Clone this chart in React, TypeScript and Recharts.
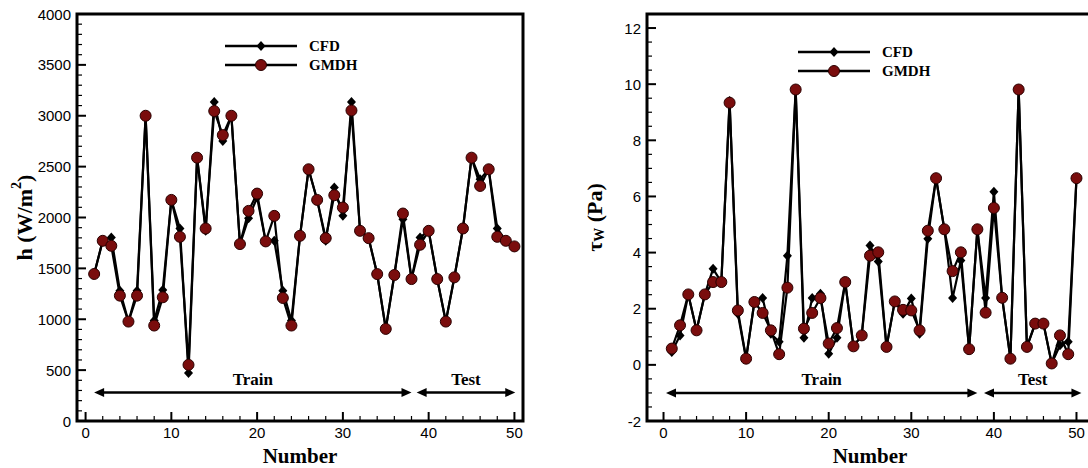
import React from 'react';
import { LineChart, Line, XAxis, YAxis, ReferenceArea, ReferenceLine, Legend, Label } from 'recharts';

// sample number (x axis)
const sampleNo = Array.from({ length: 50 }, (_, i) => i + 1);

// heat transfer coefficient h (W/m2)
const hCFD = [
  1445, 1771, 1804, 1281, 977, 1281, 3000, 987, 1288, 2173,
  1892, 471, 2588, 1869, 3134, 2752, 3000, 1739, 1993, 2196,
  1765, 1771, 1281, 987, 1820, 2474, 2173, 1771, 2294, 2016,
  3134, 1869, 1797, 1444, 905, 1435, 1984, 1395, 1804, 1869,
  1395, 977, 1412, 1892, 2588, 2376, 2474, 1892, 1771, 1716,
];
const hGMDH = [
  1445, 1771, 1722, 1232, 977, 1232, 3000, 938, 1216, 2173,
  1810, 552, 2588, 1892, 3046, 2810, 3000, 1739, 2065, 2235,
  1765, 2016, 1209, 938, 1820, 2474, 2173, 1797, 2219, 2098,
  3052, 1869, 1797, 1444, 905, 1435, 2039, 1395, 1732, 1869,
  1395, 977, 1412, 1892, 2588, 2310, 2474, 1810, 1771, 1716,
];

// wall shear stress tau_w (Pa)
const tauCFD = [
  0.46, 1.05, 2.51, 1.23, 2.51, 3.42, 2.95, 9.40, 1.82, 0.22,
  2.24, 2.38, 1.11, 0.82, 3.89, 9.81, 0.97, 2.38, 2.53, 0.40,
  0.97, 2.95, 0.66, 1.05, 4.25, 3.68, 0.64, 2.26, 1.82, 2.36,
  1.11, 4.49, 6.65, 4.83, 2.38, 3.72, 0.56, 4.83, 2.38, 6.17,
  2.39, 0.22, 9.81, 0.64, 1.47, 1.47, 0.05, 0.70, 0.82, 6.65,
];
const tauGMDH = [
  0.58, 1.41, 2.51, 1.23, 2.51, 2.95, 2.95, 9.34, 1.94, 0.22,
  2.24, 1.85, 1.23, 0.38, 2.75, 9.81, 1.29, 1.85, 2.38, 0.76,
  1.31, 2.95, 0.66, 1.05, 3.89, 4.01, 0.64, 2.26, 1.96, 1.94,
  1.23, 4.78, 6.65, 4.83, 3.34, 4.01, 0.56, 4.83, 1.86, 5.59,
  2.39, 0.22, 9.81, 0.64, 1.47, 1.47, 0.05, 1.05, 0.38, 6.65,
];

const xTicks = [0, 2, 4, 6, 8, 10, 12, 14, 16, 18, 20, 22, 24, 26, 28, 30, 32, 34, 36, 38, 40, 42, 44, 46, 48, 50];
const hMajor = [0, 500, 1000, 1500, 2000, 2500, 3000, 3500, 4000];
const tauMajor = [-2, 0, 2, 4, 6, 8, 10, 12];

const withMinor = (major: number[], parts: number) => {
  const out: number[] = [];
  for (let i = 0; i < major.length - 1; i++) {
    const step = (major[i + 1] - major[i]) / parts;
    for (let k = 0; k < parts; k++) out.push(+(major[i] + k * step).toFixed(3));
  }
  out.push(major[major.length - 1]);
  return out;
};
const hTicks = withMinor(hMajor, 5);
const tauTicks = withMinor(tauMajor, 4);

const hData = sampleNo.map((n, i) => ({ n, cfd: hCFD[i], gmdh: hGMDH[i] }));
const tauData = sampleNo.map((n, i) => ({ n, cfd: tauCFD[i], gmdh: tauGMDH[i] }));

const SANS = '"Liberation Sans", Arial, sans-serif';
const SERIF = '"Liberation Serif", "Times New Roman", serif';
const TM = 6;
const DARK_RED = '#7a0d0d';

// inward tick marks, labels only on the major ones
const yTick = (majors: number[]) => (p: any) => {
  const v = p.payload.value;
  const major = majors.some((m) => Math.abs(m - v) < 1e-6);
  const ax = p.x + TM;
  return (
    <g>
      <line x1={ax} x2={ax + (major ? 9 : 5)} y1={p.y} y2={p.y} stroke="#000" strokeWidth={major ? 2 : 1.2} />
      {major && (
        <text x={p.x} y={p.y} textAnchor="end" dominantBaseline="central" fontFamily={SANS} fontSize={15} fill="#000">
          {v}
        </text>
      )}
    </g>
  );
};

const xTick = (p: any) => {
  const v = p.payload.value;
  const major = v % 10 === 0;
  const ay = p.y - TM;
  return (
    <g>
      <line x1={p.x} x2={p.x} y1={ay} y2={ay - (major ? 9 : 5)} stroke="#000" strokeWidth={major ? 2 : 1.2} />
      {major && (
        <text x={p.x} y={p.y} textAnchor="middle" dominantBaseline="hanging" fontFamily={SANS} fontSize={15} fill="#000">
          {v}
        </text>
      )}
    </g>
  );
};

const diamond = (p: any) => {
  const { cx, cy } = p;
  if (cx == null || cy == null) return <g key={p.index} />;
  return <polygon key={p.index} points={`${cx},${cy - 5} ${cx + 4.5},${cy} ${cx},${cy + 5} ${cx - 4.5},${cy}`} fill="#000" />;
};

const arrow = (p: any) => {
  const { x1, y1, x2, y2 } = p;
  return (
    <g>
      <line x1={x1 + 6} y1={y1} x2={x2 - 6} y2={y2} stroke="#000" strokeWidth={2.5} />
      <polygon points={`${x1},${y1} ${x1 + 10},${y1 - 4.5} ${x1 + 10},${y1 + 4.5}`} fill="#000" />
      <polygon points={`${x2},${y2} ${x2 - 10},${y2 - 4.5} ${x2 - 10},${y2 + 4.5}`} fill="#000" />
    </g>
  );
};

const legendContent = () => (
  <svg width={160} height={40}>
    <line x1={5} x2={77} y1={10} y2={10} stroke="#000" strokeWidth={2.5} />
    <polygon points="41,5 45.5,10 41,15 36.5,10" fill="#000" />
    <text x={89} y={10} dominantBaseline="central" fontFamily={SERIF} fontWeight="bold" fontSize={15}>CFD</text>
    <line x1={5} x2={77} y1={29} y2={29} stroke="#000" strokeWidth={2.5} />
    <circle cx={41} cy={29} r={5.5} fill={DARK_RED} stroke="#2a0000" strokeWidth={1} />
    <text x={89} y={29} dominantBaseline="central" fontFamily={SERIF} fontWeight="bold" fontSize={15}>GMDH</text>
  </svg>
);

const xTitle = (p: any) => {
  const vb = p.viewBox;
  return (
    <text x={vb.x + vb.width / 2} y={463} textAnchor="middle" fontFamily={SERIF} fontWeight="bold" fontSize={21} fill="#000">
      Number
    </text>
  );
};

const hTitle = (p: any) => {
  const vb = p.viewBox;
  const cx = vb.x + 24;
  const cy = vb.y + vb.height / 2;
  return (
    <text transform={`translate(${cx},${cy}) rotate(-90)`} textAnchor="middle" dominantBaseline="central" fontFamily={SERIF} fontWeight="bold" fontSize={22} fill="#000">
      h (W/m<tspan fontSize={14} dy={-8}>2</tspan><tspan dy={8}>)</tspan>
    </text>
  );
};

const tauTitle = (p: any) => {
  const vb = p.viewBox;
  const cx = vb.x + 24;
  const cy = vb.y + vb.height / 2;
  return (
    <text transform={`translate(${cx},${cy}) rotate(-90)`} textAnchor="middle" dominantBaseline="central" fontFamily={SERIF} fontWeight="bold" fontSize={22} fill="#000">
      τ<tspan fontSize={14} dy={5}>W</tspan><tspan dy={-5}> (Pa)</tspan>
    </text>
  );
};

const seriesLines = [
  <Line key="cfd" dataKey="cfd" name="CFD" stroke="#000" strokeWidth={2.2} dot={diamond} activeDot={false} isAnimationActive={false} />,
  <Line key="gmdh" dataKey="gmdh" name="GMDH" stroke="#000" strokeWidth={2.2} dot={{ r: 5.5, fill: DARK_RED, stroke: '#2a0000', strokeWidth: 1 }} activeDot={false} isAnimationActive={false} />,
];

const labelStyle = { fontFamily: SERIF, fontWeight: 'bold', fontSize: 17, fill: '#000' } as any;

export default function App() {
  return (
    <div style={{ position: 'fixed', left: 0, top: 0, width: 1088, height: 468, overflow: 'hidden', background: '#fff' }}>
      <div style={{ position: 'absolute', left: 0, top: 0 }}>
        <LineChart width={560} height={468} data={hData} margin={{ top: 14, right: 37, bottom: 0, left: 0 }}>
          <XAxis dataKey="n" type="number" domain={[-1, 51]} ticks={xTicks} interval={0} tick={xTick} tickLine={false} axisLine={false} tickSize={0} tickMargin={TM} height={47}>
            <Label content={xTitle} />
          </XAxis>
          <YAxis type="number" domain={[0, 4000]} ticks={hTicks} interval={0} tick={yTick(hMajor)} tickLine={false} axisLine={false} tickSize={0} tickMargin={TM} width={77}>
            <Label content={hTitle} />
          </YAxis>
          <ReferenceArea x1={-1} x2={51} y1={0} y2={4000} fill="none" stroke="#000" strokeWidth={3} ifOverflow="visible" />
          <ReferenceLine segment={[{ x: 1, y: 280 }, { x: 38, y: 280 }]} shape={arrow} ifOverflow="visible" label={{ value: 'Train', position: 'top', offset: 8, ...labelStyle }} />
          <ReferenceLine segment={[{ x: 38.6, y: 280 }, { x: 50.1, y: 280 }]} shape={arrow} ifOverflow="visible" label={{ value: 'Test', position: 'top', offset: 8, ...labelStyle }} />
          <Legend content={legendContent} layout="horizontal" verticalAlign="middle" align="center" wrapperStyle={{ left: 220, top: 36, width: 160, height: 40 }} />
          {seriesLines}
        </LineChart>
      </div>
      <div style={{ position: 'absolute', left: 570, top: 0 }}>
        <LineChart width={530} height={468} data={tauData} margin={{ top: 14, right: 7, bottom: 0, left: 0 }}>
          <XAxis dataKey="n" type="number" domain={[-2, 52]} ticks={xTicks} interval={0} tick={xTick} tickLine={false} axisLine={false} tickSize={0} tickMargin={TM} height={47}>
            <Label content={xTitle} />
          </XAxis>
          <YAxis type="number" domain={[-2, 12.5]} ticks={tauTicks} interval={0} tick={yTick(tauMajor)} tickLine={false} axisLine={false} tickSize={0} tickMargin={TM} width={77}>
            <Label content={tauTitle} />
          </YAxis>
          <ReferenceArea x1={-2} x2={52} y1={-2} y2={12.5} fill="none" stroke="#000" strokeWidth={3} ifOverflow="visible" />
          <ReferenceLine segment={[{ x: 0.3, y: -1 }, { x: 38, y: -1 }]} shape={arrow} ifOverflow="visible" label={{ value: 'Train', position: 'top', offset: 8, ...labelStyle }} />
          <ReferenceLine segment={[{ x: 38.8, y: -1 }, { x: 50.6, y: -1 }]} shape={arrow} ifOverflow="visible" label={{ value: 'Test', position: 'top', offset: 8, ...labelStyle }} />
          <Legend content={legendContent} layout="horizontal" verticalAlign="middle" align="center" wrapperStyle={{ left: 223, top: 42, width: 160, height: 40 }} />
          {seriesLines}
        </LineChart>
      </div>
    </div>
  );
}
